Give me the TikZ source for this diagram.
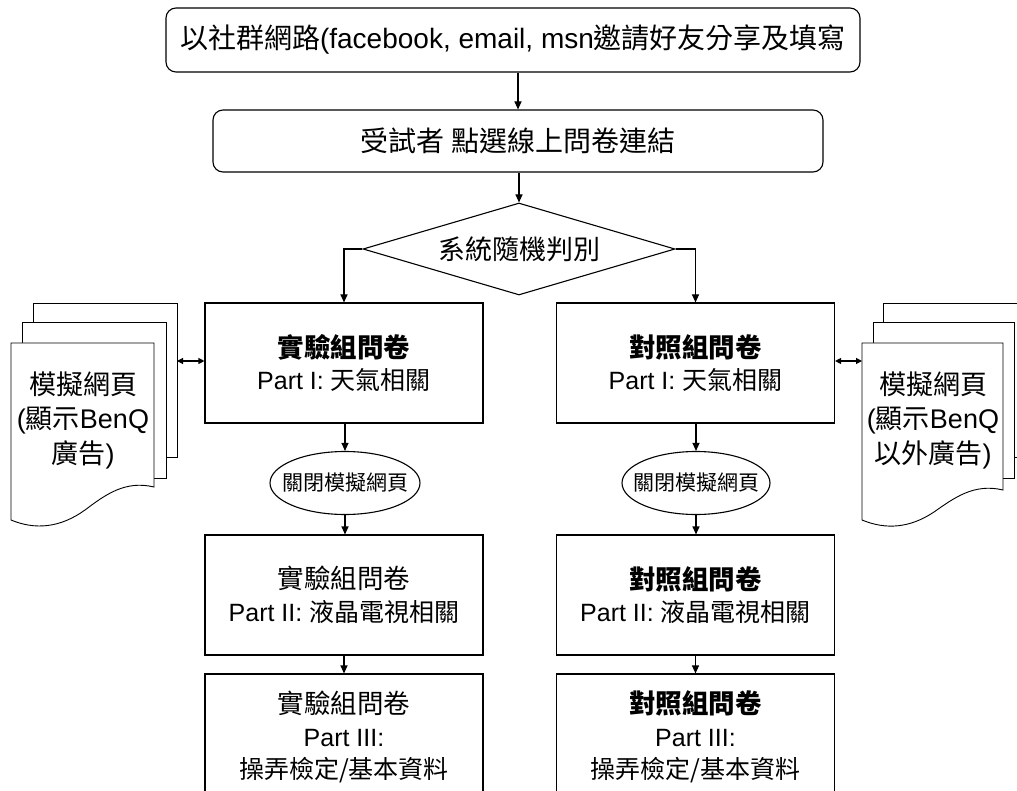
\documentclass[tikz,border=0pt]{standalone}
\usepackage{fontspec}
\setmainfont{Liberation Sans}
\newfontfamily\cjk{Noto Sans CJK TC}
\usetikzlibrary{shapes.geometric,arrows.meta}
\newcommand\zh[1]{{\cjk #1}}
\newcommand\ttl[1]{{\fontsize{26.5}{32.5}\selectfont\cjk #1}}
\begin{document}
\begin{tikzpicture}[x=1pt,y=-1pt,line width=1.1pt,
  >={Triangle[length=8pt,width=7pt]},
  rbox/.style={draw,rounded corners=10pt,inner sep=0pt,font=\fontsize{28}{32}\selectfont},
  qbox/.style={draw,inner sep=0pt,minimum width=278pt,align=center,font=\fontsize{25}{32.5}\selectfont},
  oval/.style={draw,ellipse,inner sep=0pt,minimum width=150pt,minimum height=63pt,font=\fontsize{21}{24}\selectfont},
  choice/.style={draw,diamond,aspect=3.4,inner sep=0pt,minimum width=312pt,minimum height=92pt,font=\fontsize{27}{30}\selectfont},
  page/.style={draw,fill=white,line width=0.9pt},
  doctext/.style={align=center,inner sep=0pt,font=\fontsize{27}{34.5}\selectfont}]
\useasboundingbox (0,0) rectangle (1017,791);

% top boxes
\node[rbox,minimum width=694pt,minimum height=64pt] (top) at (513,40)
  {\zh{以社群網路}(facebook, email, msn\zh{邀請好友分享及填寫}};
\node[rbox,minimum width=610pt,minimum height=62pt] (click) at (518,141)
  {\zh{受試者 點選線上問卷連結}};
\node[choice] (dia) at (519,249) {\zh{系統隨機判別}};

% left column
\node[qbox,minimum height=120pt] (b1L) at (344,363)
  {{\bfseries\ttl{實驗組問卷}}\\Part I: \zh{天氣相關}};
\node[oval] (e1L) at (345,483) {\makebox[0pt]{\zh{關閉模擬網頁}}};
\node[qbox,minimum height=120pt] (b2L) at (344,595)
  {\ttl{實驗組問卷}\\Part II: \zh{液晶電視相關}};
\node[qbox,minimum height=126pt] (b3L) at (344,737)
  {\ttl{實驗組問卷}\\Part III:\\\zh{操弄檢定/基本資料}};

% right column
\node[qbox,minimum height=120pt] (b1R) at (695.5,363)
  {{\bfseries\ttl{對照組問卷}}\\Part I: \zh{天氣相關}};
\node[oval,minimum width=148pt] (e1R) at (696,483) {\makebox[0pt]{\zh{關閉模擬網頁}}};
\node[qbox,minimum height=120pt] (b2R) at (695.5,595)
  {{\bfseries\ttl{對照組問卷}}\\Part II: \zh{液晶電視相關}};
\node[qbox,minimum height=126pt] (b3R) at (695.5,737)
  {{\bfseries\ttl{對照組問卷}}\\Part III:\\\zh{操弄檢定/基本資料}};

% left document stack
\draw[page] (33,303) rectangle (177,457);
\draw[page] (22,322) rectangle (166,478);
\draw[page] (11,343) -- (154,343) -- (154,487)
  .. controls (125,480) and (105,495) .. (85,510)
  .. controls (60,528) and (35,530) .. (11,520) -- cycle;
\node[doctext] (docL) at (83,420) {\zh{模擬網頁}\\(\zh{顯示}BenQ\\\zh{廣告})};
\coordinate (dLa) at (177,361);

% right document stack
\draw[page] (883,303) rectangle (1030,457);
\draw[page] (873,322) rectangle (1014,478);
\draw[page] (862,343) -- (1003,343) -- (1003,490)
  .. controls (974,483) and (954,498) .. (934,512)
  .. controls (910,528) and (886,530) .. (862,520) -- cycle;
\node[doctext] (docR) at (933,420) {\zh{模擬網頁}\\(\zh{顯示}BenQ\\\zh{以外廣告})};
\coordinate (dRa) at (862,361);

% connectors
\draw[->] (top.south -| click.north) -- (click.north);
\draw[->] (click.south -| dia.north) -- (dia.north);
\draw[->] (dia.west) -| (b1L.north);
\draw[->] (dia.east) -| (b1R.north);
\draw[->] (b1L.south) -- (b1L.south -| e1L.north) -- (e1L.north);
\draw[->] (e1L.south) -- (e1L.south |- b2L.north);
\draw[->] (b2L.south) -- (b3L.north);
\draw[->] (b1R.south -| e1R.north) -- (e1R.north);
\draw[->] (e1R.south) -- (e1R.south |- b2R.north);
\draw[->] (b2R.south -| b3R.north) -- (b3R.north);
\draw[<->,>={Triangle[length=6pt,width=6pt]}] (dLa) -- (dLa -| b1L.west);
\draw[<->,>={Triangle[length=6pt,width=6pt]}] (dRa -| b1R.east) -- (dRa);
\end{tikzpicture}
\end{document}
